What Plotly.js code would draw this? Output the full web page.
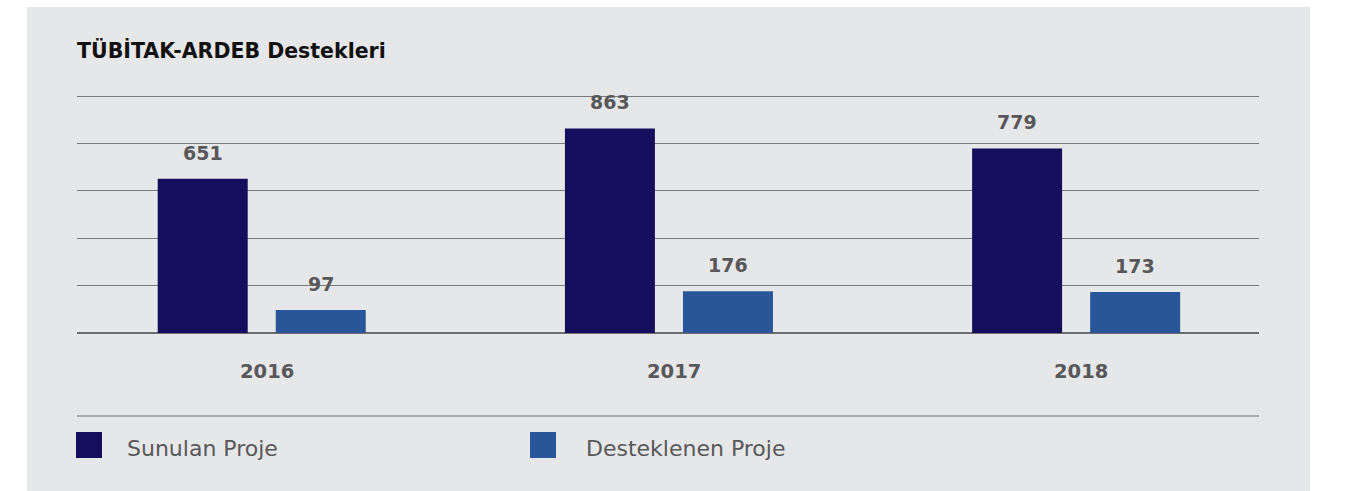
<!DOCTYPE html>
<html><head><meta charset="utf-8">
<script src="https://cdn.plot.ly/plotly-3.0.1.min.js"></script>
<style>html,body{margin:0;padding:0;background:#fff}#chart{width:1354px;height:491px}</style>
</head><body><div id="chart"></div>
<script>
const years = ['2016', '2017', '2018'];
const seriesNames = ['Sunulan Proje', 'Desteklenen Proje'];
const sunulan = [651, 863, 779];
const desteklenen = [97, 176, 173];
const chartTitle = 'TÜBİTAK-ARDEB Destekleri';

const W = 1354, H = 491;
const M = {l: 77, r: 95, t: 93, b: 158};
const pw = W - M.l - M.r, ph = H - M.t - M.b;
const px = x => (x - M.l) / pw;
const py = y => (H - M.b - y) / ph;
const yMax = 1000 * ph / 237;

const colors = ['#150e5c', '#285699'];
const barW = 0.221;
const offsets = [-0.2555, 0.0344];
const gray = '#58585a';
const FONT = 'DejaVu Sans, sans-serif';

const values = [sunulan, desteklenen];
const traces = values.map((v, i) => ({
  type: 'bar', x: years, y: v, name: seriesNames[i],
  width: barW, offset: offsets[i],
  marker: {color: colors[i], line: {width: 0}},
  hoverinfo: 'x+y', showlegend: false
}));

const annotations = [];
annotations.push({xref: 'paper', yref: 'paper', x: px(75), y: py(51), xanchor: 'left', yanchor: 'middle',
  text: '<b>' + chartTitle + '</b>', showarrow: false, font: {family: FONT, size: 20.5, color: '#111'}});
values.forEach((v, i) => v.forEach((val, j) => {
  annotations.push({xref: 'x', yref: 'y', x: j + offsets[i] + barW / 2, y: val,
    yanchor: 'middle', xanchor: 'center', yshift: 26, showarrow: false,
    text: '<b>' + val + '</b>', font: {family: FONT, size: 19, color: gray}});
}));
years.forEach((yr, j) => annotations.push({xref: 'x', yref: 'paper', x: j, y: py(371), xshift: 5,
  yanchor: 'middle', xanchor: 'center', showarrow: false,
  text: '<b>' + yr + '</b>', font: {family: FONT, size: 19.5, color: gray}}));
const legX = [76, 530];
const legTextX = [125, 584];
const shapes = [
  {type: 'rect', xref: 'paper', yref: 'paper', x0: px(27), x1: px(1310), y0: py(H + 5), y1: py(7),
   fillcolor: '#e6e7e9', line: {width: 0}, layer: 'below'},
  {type: 'line', xref: 'paper', yref: 'paper', x0: 0, x1: 1, y0: py(416), y1: py(416),
   line: {color: '#6d6d6f', width: 1.2}}
];
seriesNames.forEach((n, i) => {
  shapes.push({type: 'rect', xref: 'paper', yref: 'paper', x0: px(legX[i]), x1: px(legX[i] + 26),
    y0: py(458), y1: py(432), fillcolor: colors[i], line: {width: 0}});
  annotations.push({xref: 'paper', yref: 'paper', x: px(legTextX[i]), y: py(448), xanchor: 'left', yanchor: 'middle',
    showarrow: false, text: n, font: {family: FONT, size: 22, color: gray}});
});

const layout = {
  width: W, height: H, margin: M,
  paper_bgcolor: '#ffffff', plot_bgcolor: 'rgba(0,0,0,0)',
  barmode: 'overlay',
  xaxis: {type: 'category', range: [-0.4537, 2.449], showticklabels: false, showgrid: false,
    zeroline: false, showline: false, ticks: '', fixedrange: true},
  yaxis: {range: [0, yMax], dtick: 200, tick0: 0, showticklabels: false, showgrid: true,
    gridcolor: '#7a7a7c', gridwidth: 1, zeroline: true, zerolinecolor: '#6d6d6f', zerolinewidth: 1.2,
    showline: false, ticks: '', fixedrange: true},
  annotations, shapes, showlegend: false
};
Plotly.newPlot('chart', traces, layout, {displayModeBar: false, staticPlot: true});
</script></body></html>
